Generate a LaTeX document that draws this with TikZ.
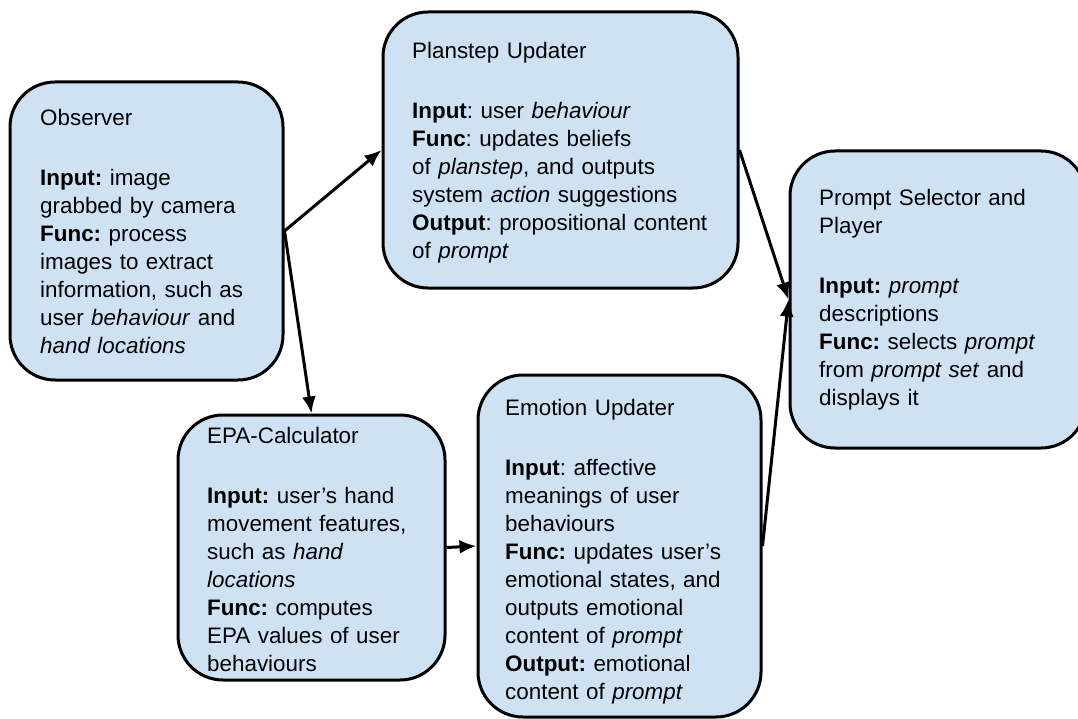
\documentclass[tikz,border=0pt]{standalone}
\usepackage{fontspec}
\setmainfont{Liberation Sans}
\usetikzlibrary{arrows.meta}
\definecolor{boxblue}{HTML}{CFE2F3}
\tikzstyle{module} = [draw, line width=3pt, fill=boxblue, rectangle, 
rounded corners=45pt]
\tikzstyle{desc} = [anchor=north west, inner sep=0pt, align=left, text width=330pt,
font=\fontsize{22.4pt}{28pt}\selectfont\frenchspacing]
\tikzstyle{flow} = [->, line width=3pt]

\begin{document}
\begin{tikzpicture}[x=1pt,y=-1pt,>={Latex[length=17pt,width=14pt]}]
      \useasboundingbox (0,0) rectangle (1078,719);
      % boxes
      \node [module, minimum width=273pt, minimum height=298pt] (obs) at (146.5,231) {};
      \node [module, minimum width=355pt, minimum height=276pt] (plan) at (560.5,150) {};
      \node [module, minimum width=296pt, minimum height=297pt] (prompt) at (938,299.5) {};
      \node [module, minimum width=267pt, minimum height=265pt] (epa) at (311.5,547.5) {};
      \node [module, minimum width=283pt, minimum height=342pt] (emo) at (619.5,546) {};
      % texts
      \node [desc] (obstext) at (40,109) {Observer\\[32pt]
        \textbf{Input:} image\\
        grabbed by camera\\
        \textbf{Func:} process\\
        images to extract\\
        information, such as\\
        user \textit{behaviour} and\\
        \textit{hand locations}};
      \node [desc] (plantext) at (412,42) {Planstep Updater\\[32pt]
        \textbf{Input}: user \textit{behaviour}\\
        \textbf{Func}: updates beliefs\\
        of \textit{planstep}, and outputs\\
        system \textit{action} suggestions\\
        \textbf{Output}: propositional content\\
        of \textit{prompt}};
      \node [desc] (prompttext) at (819,189) {Prompt Selector and\\
        Player\\[32pt]
        \textbf{Input:} \textit{prompt}\\
        descriptions\\
        \textbf{Func:} selects \textit{prompt}\\
        from \textit{prompt set} and\\
        displays it};
      \node [desc] (epatext) at (207,427) {EPA-Calculator\\[32pt]
        \textbf{Input:} user’s hand\\
        movement features,\\
        such as \textit{hand}\\
        \textit{locations}\\
        \textbf{Func:} computes\\
        EPA values of user\\
        behaviours};
      \node [desc] (emotext) at (505,399) {Emotion Updater\\[32pt]
        \textbf{Input}: affective\\
        meanings of user\\
        behaviours\\
        \textbf{Func:} updates user’s\\
        emotional states, and\\
        outputs emotional\\
        content of \textit{prompt}\\
        \textbf{Output:} emotional\\
        content of \textit{prompt}};
      % connectors
      \draw [flow] (obs.east) -- (plan.west);
      \draw [flow] (obs.east) -- (epa.north);
      \draw [flow] (plan.east) -- (prompt.west);
      \draw [flow] (epa.east) -- (emo.west);
      \draw [flow] (emo.east) -- (prompt.west);
  \end{tikzpicture}
\end{document}
